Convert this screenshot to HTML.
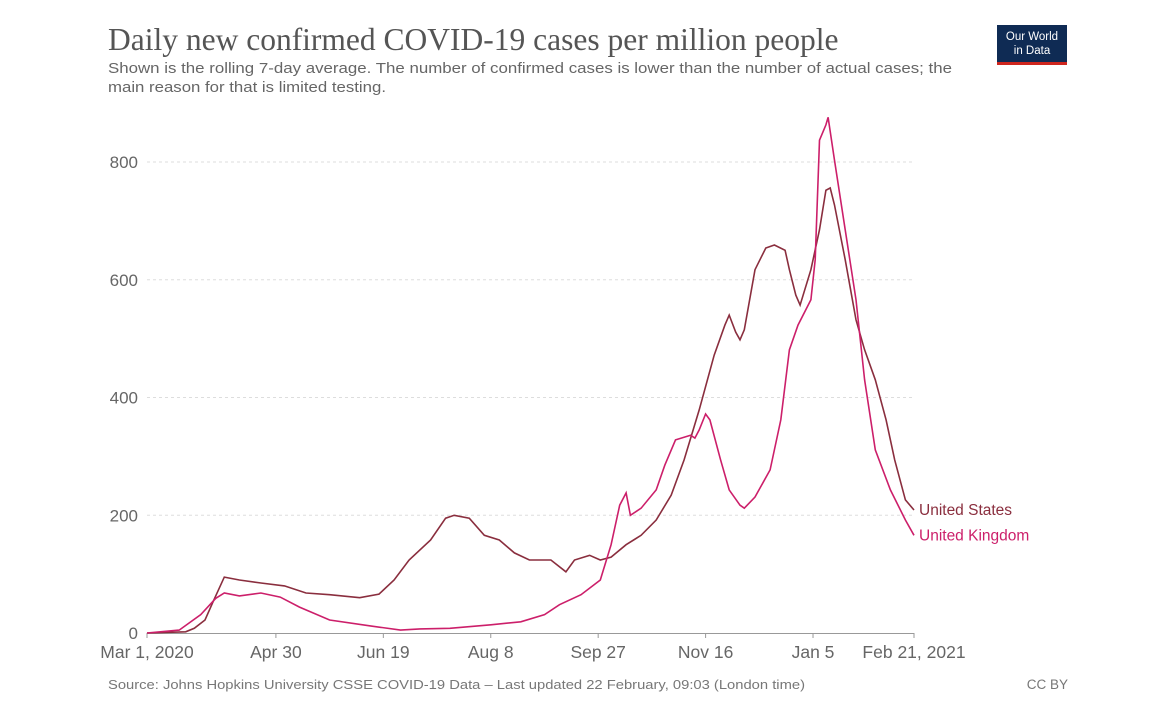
<!DOCTYPE html>
<html><head><meta charset="utf-8"><style>
body{margin:0;background:#fff;width:1155px;height:715px;overflow:hidden;font-family:"Liberation Sans",sans-serif}
</style></head><body>
<svg width="1155" height="715">
<text x="108" y="50" font-family="Liberation Serif" font-size="31.5" fill="#555">Daily new confirmed COVID-19 cases per million people</text>
<text x="108" y="73" font-size="15" fill="#666" textLength="844" lengthAdjust="spacingAndGlyphs">Shown is the rolling 7-day average. The number of confirmed cases is lower than the number of actual cases; the</text>
<text x="108" y="92" font-size="15" fill="#666" textLength="278" lengthAdjust="spacingAndGlyphs">main reason for that is limited testing.</text>
<g><rect x="997" y="25" width="70" height="40" fill="#0f2b54"/><rect x="997" y="62" width="70" height="3" fill="#ce261e"/>
<text x="1032" y="40" font-size="11.5" fill="#fff" text-anchor="middle">Our World</text><text x="1032" y="54" font-size="11.5" fill="#fff" text-anchor="middle">in Data</text></g>
<g id="grid"></g><g id="xaxis"></g><g id="lines"></g>
<text x="108" y="689" font-size="13" fill="#777" textLength="697" lengthAdjust="spacingAndGlyphs">Source: Johns Hopkins University CSSE COVID-19 Data – Last updated 22 February, 09:03 (London time)</text>
<text x="1068" y="689" font-size="13.5" fill="#777" text-anchor="end">CC BY</text>
</svg>
<script>
const yTicks=[0,200,400,600,800];
const xTickDays=[0,60,110,160,210,260,310,357];
const xTickLabels=["Mar 1, 2020","Apr 30","Jun 19","Aug 8","Sep 27","Nov 16","Jan 5","Feb 21, 2021"];
const usDays=[0,18,22,27,31,36,43,53,64,74,85,99,108,115,122,132,139,143,150,157,164,171,178,188,195,199,206,211,216,223,230,237,244,250,257,264,269,271,274,276,278,283,288,292,297,299,302,304,309,313,316,318,320,325,330,334,339,344,348,353,357];
const usVals=[0,2,8,22,55,95,90,85,80,68,65,60,66,90,124,158,195,200,195,166,158,136,124,124,104,124,132,124,129,150,166,192,234,294,379,472,523,540,511,498,515,617,654,659,650,617,574,557,617,685,752,756,727,634,532,481,430,362,294,226,209];
const ukDays=[0,15,25,32,36,43,53,62,71,85,104,118,127,141,160,174,185,192,202,211,216,220,223,225,230,237,241,246,253,255,257,260,262,267,271,276,278,283,290,295,299,303,309,311,313,316,317,320,325,330,334,339,346,353,357];
const ukVals=[0,5,31,59,68,63,68,61,44,22,12,5,7,8,14,19,31,48,65,90,150,217,238,200,212,243,285,328,336,331,345,372,362,294,243,217,212,231,277,362,481,523,566,634,837,863,876,803,685,566,430,311,243,192,166];
const X=d=>147+d*(914-147)/357, Y=v=>633-v*(633-162)/800;
const ns="http://www.w3.org/2000/svg";
function mk(t,a,p){const e=document.createElementNS(ns,t);for(const k in a)e.setAttribute(k,a[k]);p.appendChild(e);return e;}
const g=document.getElementById('grid');
yTicks.forEach(v=>{
 if(v>0){const l=mk('line',{x1:147,x2:914,y1:Y(v),y2:Y(v),stroke:'#ddd','stroke-dasharray':'3,3'},g);
 
 }
 const t=mk('text',{x:138,y:Y(v)+6,'font-size':17,fill:'#666','text-anchor':'end'},g);t.textContent=v;
 
 
});
const xa=document.getElementById('xaxis');
const al=mk('line',{x1:147,x2:914,y1:633.5,y2:633.5,stroke:'#999'},xa);


xTickDays.forEach((d,i)=>{
 mk('line',{x1:X(d),x2:X(d),y1:633,y2:638,stroke:'#999'},xa);
 const t=mk('text',{x:X(d),y:658,'font-size':17.5,fill:'#666','text-anchor':'middle'},xa);t.textContent=xTickLabels[i];
 
 
});
const L=document.getElementById('lines');
function series(days,vals,col,name,label){
 const p=mk('path',{d:days.map((d,i)=>(i?'L':'M')+X(d).toFixed(1)+','+Y(vals[i]).toFixed(1)).join(''),fill:'none',stroke:col,'stroke-width':1.6},L);
 
 
 const t=mk('text',{x:919,y:Y(vals[vals.length-1])+5,'font-size':15.5,fill:col},L);t.textContent=label;
 
 
}
series(usDays,usVals,'#8a2e3e','united-states','United States');
series(ukDays,ukVals,'#cc1f6a','united-kingdom','United Kingdom');
</script>
</body></html>
